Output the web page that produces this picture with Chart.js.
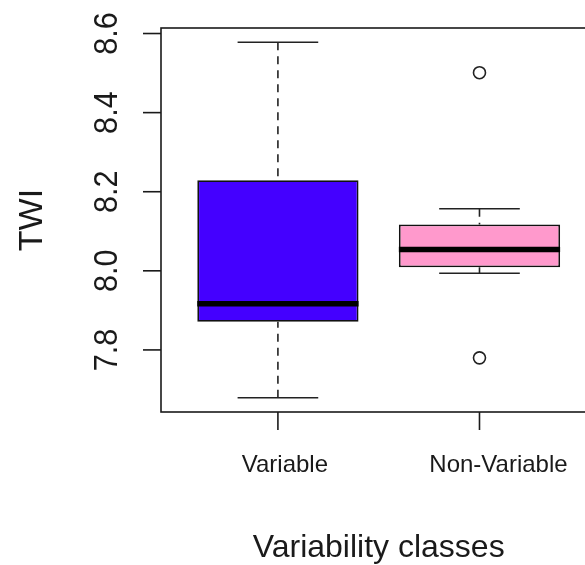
<!DOCTYPE html>
<html><head><meta charset="utf-8">
<script src="https://cdn.jsdelivr.net/npm/chart.js@4/dist/chart.umd.min.js"></script>
<style>
html,body{margin:0;padding:0;background:#fff;overflow:hidden;width:585px;height:565px}
#wrap{position:relative;width:604px;height:565px}
canvas{display:block}
</style>
</head><body><div id="wrap"><canvas id="c" width="604" height="565"></canvas></div>
<script>
// ---- data ----
const categories  = ['Variable', 'Non-Variable'];
const whiskerLow  = [7.679, 7.994];
const q1          = [7.871, 8.009];
const median      = [7.917, 8.054];
const q3          = [8.229, 8.117];
const whiskerHigh = [8.578, 8.157];
const outliers    = [[], [8.501, 7.780]];
const yTicks      = [7.8, 8.0, 8.2, 8.4, 8.6];
const yTickLabels = ['7.8', '8.0', '8.2', '8.4', '8.6'];
const boxColors   = ['#4400FF', '#FF99CC'];
const xTitle = 'Variability classes';
const yTitle = 'TWI';

// R-style axis extents: data range padded by 4%
const allVals = whiskerLow.concat(whiskerHigh, outliers.flat());
const lo = Math.min(...allVals), hi = Math.max(...allVals);
const yMin = lo - (hi - lo) * 0.04, yMax = hi + (hi - lo) * 0.04;
const xMin = 0.5 - 2 * 0.04, xMax = categories.length + 0.5 + 2 * 0.04;

const FONT = '"Liberation Sans", Arial, sans-serif';
const INK = '#1a1a1a';

const boxplotExtras = {
  id: 'boxplotExtras',
  afterDatasetsDraw(chart) {
    const {ctx, chartArea: a, scales: {x, y}} = chart;
    const seg = (x1, y1, x2, y2) => { ctx.beginPath(); ctx.moveTo(x1, y1); ctx.lineTo(x2, y2); ctx.stroke(); };
    ctx.save();
    ctx.lineCap = 'butt';
    categories.forEach((c, i) => {
      const cx = x.getPixelForValue(i + 1);
      const stapleHalf = x.getPixelForValue(i + 1 + 0.2) - cx;
      const boxHalf = x.getPixelForValue(i + 1 + 0.4) - cx;
      // whiskers (dashed) from whisker end towards box
      ctx.strokeStyle = '#222';
      ctx.lineWidth = 1.6;
      ctx.setLineDash([8, 6]);
      seg(cx, y.getPixelForValue(whiskerHigh[i]), cx, y.getPixelForValue(q3[i]));
      seg(cx, y.getPixelForValue(whiskerLow[i]), cx, y.getPixelForValue(q1[i]));
      ctx.setLineDash([]);
      // staples
      seg(cx - stapleHalf, y.getPixelForValue(whiskerHigh[i]), cx + stapleHalf, y.getPixelForValue(whiskerHigh[i]));
      seg(cx - stapleHalf, y.getPixelForValue(whiskerLow[i]), cx + stapleHalf, y.getPixelForValue(whiskerLow[i]));
      // median
      ctx.strokeStyle = '#000';
      ctx.lineWidth = 5.5;
      const my = y.getPixelForValue(median[i]);
      seg(cx - boxHalf, my, cx + boxHalf, my);
    });
    // plot frame
    ctx.strokeStyle = INK;
    ctx.lineWidth = 1.6;
    ctx.strokeRect(a.left, a.top, a.right - a.left, a.bottom - a.top);
    // y ticks + labels
    const tickLen = 18;
    ctx.fillStyle = INK;
    yTicks.forEach((v, k) => {
      const py = y.getPixelForValue(v);
      seg(a.left - tickLen, py, a.left, py);
      ctx.save();
      ctx.translate(a.left - 44, py);
      ctx.rotate(-Math.PI / 2);
      ctx.scale(0.9, 1);
      ctx.font = '34px ' + FONT;
      ctx.textAlign = 'center';
      ctx.textBaseline = 'alphabetic';
      ctx.fillText(yTickLabels[k], 0, 0);
      ctx.restore();
    });
    // x ticks + labels
    const labelShift = [7, 19];
    categories.forEach((c, i) => {
      const px = x.getPixelForValue(i + 1);
      seg(px, a.bottom, px, a.bottom + tickLen);
      ctx.font = '24px ' + FONT;
      ctx.textAlign = 'center';
      ctx.textBaseline = 'alphabetic';
      ctx.fillText(c, px + labelShift[i], a.bottom + 60);
    });
    // axis titles
    ctx.font = '32px ' + FONT;
    ctx.textAlign = 'center';
    ctx.fillText(xTitle, (a.left + a.right) / 2, a.bottom + 145);
    ctx.save();
    ctx.translate(a.left - 119, (a.top + a.bottom) / 2);
    ctx.rotate(-Math.PI / 2);
    ctx.font = '34px ' + FONT;
    ctx.textAlign = 'center';
    ctx.fillText(yTitle, 0, 0);
    ctx.restore();
    ctx.restore();
  }
};

new Chart(document.getElementById('c'), {
  type: 'bar',
  data: {
    datasets: [
      {
        type: 'bar',
        data: categories.map((c, i) => ({x: i + 1, y: [q1[i], q3[i]]})),
        backgroundColor: boxColors,
        borderColor: '#111',
        borderWidth: 1.8,
        borderSkipped: false,
        barPercentage: 0.8,
        categoryPercentage: 1.0,
        order: 2
      },
      {
        type: 'scatter',
        data: outliers.flatMap((arr, i) => arr.map(v => ({x: i + 1, y: v}))),
        pointRadius: 6,
        pointBorderWidth: 1.6,
        pointBorderColor: '#222',
        pointBackgroundColor: 'rgba(0,0,0,0)',
        order: 1
      }
    ]
  },
  options: {
    responsive: false,
    animation: false,
    events: [],
    layout: {padding: {left: 161, top: 28, right: 7, bottom: 153}},
    plugins: {legend: {display: false}, tooltip: {enabled: false}},
    scales: {
      x: {
        type: 'linear', min: xMin, max: xMax, display: false, offset: false,
        afterBuildTicks: s => { s.ticks = categories.map((c, i) => ({value: i + 1})); }
      },
      y: {type: 'linear', min: yMin, max: yMax, display: false}
    }
  },
  plugins: [boxplotExtras]
});
</script>
</body></html>
